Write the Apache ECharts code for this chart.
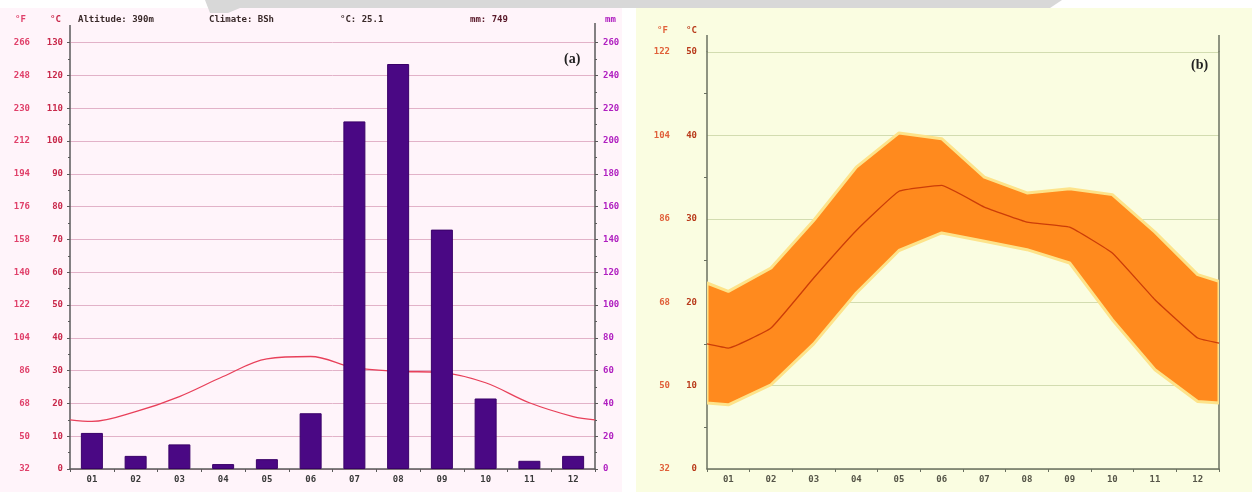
<!DOCTYPE html>
<html><head><meta charset="utf-8">
<script src="https://cdn.jsdelivr.net/npm/echarts@6/dist/echarts.min.js"></script>
<style>html,body{margin:0;padding:0;background:#fff}#c{width:1252px;height:492px}</style>
</head><body><div id="c"></div>
<script>
// ---- data ----
const months = ['01','02','03','04','05','06','07','08','09','10','11','12'];
// panel (a)
const precipMm = [22, 8, 15, 3, 6, 34, 212, 247, 146, 43, 5, 8];
const meanTempA = [14.5, 17.5, 22.1, 28.2, 33.6, 34.3, 30.9, 29.8, 29.4, 26.3, 20.2, 16.0];
const meanTempAEdges = [15.0, 15.0];          // values at left / right plot edge
const fahrenheitLabelsA = ['32','50','68','86','104','122','140','158','176','194','212','230','248','266'];
const headerTexts = ['Altitude: 390m', 'Climate: BSh', '°C: 25.1', 'mm: 749'];
// panel (b)
const maxTempB  = [21.3, 24.1, 29.8, 36.2, 40.3, 39.6, 35.0, 33.1, 33.6, 32.9, 28.4, 23.3];
const maxTempBEdges = [22.3, 22.5];
const meanTempB = [14.5, 16.9, 22.9, 28.6, 33.3, 34.0, 31.4, 29.6, 29.0, 25.9, 20.3, 15.7];
const meanTempBEdges = [15.0, 15.1];
const minTempB  = [7.7, 10.1, 15.0, 21.1, 26.2, 28.3, 27.3, 26.3, 24.7, 17.9, 11.9, 8.1];
const minTempBEdges = [7.9, 7.9];
const fahrenheitLabelsB = ['32','50','68','86','104','122'];

// build edge-to-edge series on a 0..12 value axis (month centres at i+0.5)
function withEdges(vals, edges) {
  const out = [[0, edges[0]]];
  vals.forEach((v, i) => out.push([i + 0.5, v]));
  out.push([months.length, edges[1]]);
  return out;
}
const lineA = withEdges(meanTempA, meanTempAEdges);
const lowB = withEdges(minTempB, minTempBEdges);
const highB = withEdges(maxTempB, maxTempBEdges);
const bandRows = highB.map((p, i) => [p[0], lowB[i][1], p[1]]);
const meanB = withEdges(meanTempB, meanTempBEdges);

const mono = 'DejaVu Sans Mono';
const axisGray = '#5a5a5a';

const chart = echarts.init(document.getElementById('c'), null, {renderer: 'canvas'});

function renderBand(params, api) {
  if (params.dataIndex !== 0) return null;
  const upper = bandRows.map(r => api.coord([r[0], r[2]]));
  const lower = bandRows.map(r => api.coord([r[0], r[1]])).reverse();
  return {
    type: 'polygon',
    shape: {points: upper.concat(lower)},
    style: {fill: '#ff8a1e', stroke: '#fde38a', lineWidth: 3, lineJoin: 'round'}
  };
}

const option = {
  animation: false,
  backgroundColor: '#ffffff',
  graphic: [
    {type: 'rect', z: -10, shape: {x: 0, y: 8, width: 622, height: 484}, style: {fill: '#fff4fa'}},
    {type: 'rect', z: -10, shape: {x: 636, y: 8, width: 616, height: 484}, style: {fill: '#fafde1'}},
    {type: 'polygon', z: -9, shape: {points: [[205,0],[1062,0],[1050,8],[240,8],[228,13],[210,13]]}, style: {fill: '#d8d8d8'}},
    // axis line extensions above the plot
    {type: 'line', shape: {x1: 70, y1: 25, x2: 70, y2: 43}, style: {stroke: axisGray, lineWidth: 1.5}},
    {type: 'line', shape: {x1: 595, y1: 23, x2: 595, y2: 43}, style: {stroke: axisGray, lineWidth: 1.5}},
    {type: 'line', shape: {x1: 707, y1: 35, x2: 707, y2: 52}, style: {stroke: '#6a7060', lineWidth: 1.5}},
    {type: 'line', shape: {x1: 1219, y1: 35, x2: 1219, y2: 52}, style: {stroke: '#6a7060', lineWidth: 1.5}},
    // unit headers
    {type: 'text', left: 15, top: 15, style: {text: '°F', fill: '#e0406a', font: 'bold 9px ' + mono}},
    {type: 'text', left: 50, top: 15, style: {text: '°C', fill: '#c8284a', font: 'bold 9px ' + mono}},
    {type: 'text', left: 605, top: 15, style: {text: 'mm', fill: '#b020c0', font: 'bold 9px ' + mono}},
    {type: 'text', left: 657, top: 26, style: {text: '°F', fill: '#e0603a', font: 'bold 9px ' + mono}},
    {type: 'text', left: 686, top: 26, style: {text: '°C', fill: '#b83a1a', font: 'bold 9px ' + mono}},
    // header info
    {type: 'text', left: 78, top: 15, style: {text: headerTexts[0], fill: '#3a2a2a', font: 'bold 9px ' + mono}},
    {type: 'text', left: 209, top: 15, style: {text: headerTexts[1], fill: '#3a2a2a', font: 'bold 9px ' + mono}},
    {type: 'text', left: 340, top: 15, style: {text: headerTexts[2], fill: '#3a2a2a', font: 'bold 9px ' + mono}},
    {type: 'text', left: 470, top: 15, style: {text: headerTexts[3], fill: '#5a1a2a', font: 'bold 9px ' + mono}},
    // panel labels
    {type: 'text', left: 564, top: 52, style: {text: '(a)', fill: '#222', font: 'bold 14px "Liberation Serif"'}},
    {type: 'text', left: 1191, top: 58, style: {text: '(b)', fill: '#222', font: 'bold 14px "Liberation Serif"'}}
  ],
  grid: [
    {left: 70, right: 657, top: 42.7, bottom: 23, containLabel: false},
    {left: 707, right: 33, top: 52, bottom: 23, containLabel: false}
  ],
  xAxis: [
    { // 0: panel a months
      type: 'category', gridIndex: 0, data: months, boundaryGap: true,
      axisLine: {lineStyle: {color: axisGray, width: 1.5}},
      axisTick: {show: true, length: 3, inside: false, lineStyle: {color: axisGray}},
      axisLabel: {color: '#3a3a3a', fontFamily: mono, fontSize: 9, fontWeight: 'bold', margin: 6},
      splitLine: {show: false}
    },
    { // 1: panel a hidden value x for the line
      type: 'value', gridIndex: 0, min: 0, max: 12, show: false
    },
    { // 2: panel b months
      type: 'category', gridIndex: 1, data: months, boundaryGap: true,
      axisLine: {lineStyle: {color: '#6a7060', width: 1.5}},
      axisTick: {show: true, length: 3, lineStyle: {color: '#6a7060'}},
      axisLabel: {color: '#555548', fontFamily: mono, fontSize: 9, fontWeight: 'bold', margin: 6},
      splitLine: {show: false}
    },
    { // 3: panel b hidden value x
      type: 'value', gridIndex: 1, min: 0, max: 12, show: false
    }
  ],
  yAxis: [
    { // 0: °C panel a
      type: 'value', gridIndex: 0, min: 0, max: 130, interval: 10, position: 'left',
      axisLine: {show: true, lineStyle: {color: axisGray, width: 1.5}},
      axisTick: {show: true, length: 3, lineStyle: {color: axisGray}},
      minorTick: {show: true, splitNumber: 2, length: 2, lineStyle: {color: axisGray}},
      axisLabel: {color: '#c8284a', fontFamily: mono, fontSize: 9, fontWeight: 'bold', margin: 7},
      splitLine: {show: true, lineStyle: {color: '#e2b2c8', width: 1}}
    },
    { // 1: °F panel a
      type: 'value', gridIndex: 0, min: 0, max: 130, interval: 10, position: 'left', offset: 32,
      axisLine: {show: false}, axisTick: {show: false}, splitLine: {show: false},
      axisLabel: {color: '#e0406a', fontFamily: mono, fontSize: 9, fontWeight: 'bold', margin: 8,
        formatter: v => fahrenheitLabelsA[Math.round(v / 10)] || ''}
    },
    { // 2: mm panel a
      type: 'value', gridIndex: 0, min: 0, max: 260, interval: 20, position: 'right',
      axisLine: {show: true, lineStyle: {color: axisGray, width: 1.5}},
      axisTick: {show: true, length: 3, lineStyle: {color: axisGray}},
      minorTick: {show: true, splitNumber: 2, length: 2, lineStyle: {color: axisGray}},
      axisLabel: {color: '#b020c0', fontFamily: mono, fontSize: 9, fontWeight: 'bold', margin: 8},
      splitLine: {show: false}
    },
    { // 3: °C panel b
      type: 'value', gridIndex: 1, min: 0, max: 50, interval: 10, position: 'left',
      axisLine: {show: true, lineStyle: {color: '#6a7060', width: 1.5}},
      axisTick: {show: false},
      minorTick: {show: true, splitNumber: 2, length: 3, lineStyle: {color: '#6a7060'}},
      axisLabel: {color: '#b83a1a', fontFamily: mono, fontSize: 9, fontWeight: 'bold', margin: 10},
      splitLine: {show: true, lineStyle: {color: '#d2dcb0', width: 1}}
    },
    { // 4: °F panel b
      type: 'value', gridIndex: 1, min: 0, max: 50, interval: 10, position: 'left', offset: 30,
      axisLine: {show: false}, axisTick: {show: false}, splitLine: {show: false},
      axisLabel: {color: '#e0603a', fontFamily: mono, fontSize: 9, fontWeight: 'bold', margin: 7,
        formatter: v => fahrenheitLabelsB[Math.round(v / 10)] || ''}
    },
    { // 5: right frame panel b
      type: 'value', gridIndex: 1, min: 0, max: 50, interval: 10, position: 'right',
      axisLine: {show: true, lineStyle: {color: '#6a7060', width: 1.5}},
      axisTick: {show: false}, axisLabel: {show: false}, splitLine: {show: false}
    }
  ],
  series: [
    {
      name: 'Temperature', type: 'line', xAxisIndex: 1, yAxisIndex: 0, data: lineA,
      smooth: 0.35, symbol: 'none', z: 1,
      lineStyle: {color: '#e8405a', width: 1.3}
    },
    {
      name: 'Precipitation', type: 'bar', xAxisIndex: 0, yAxisIndex: 2, data: precipMm,
      barWidth: 22, z: 3,
      itemStyle: {color: '#4a0884', borderColor: '#3a0068', borderWidth: 1}
    },
    {
      name: 'Range', type: 'custom', xAxisIndex: 3, yAxisIndex: 3, data: bandRows,
      encode: {x: 0, y: [1, 2]}, renderItem: renderBand, z: 2, clip: true
    },
    {
      name: 'Mean', type: 'line', xAxisIndex: 3, yAxisIndex: 3, data: meanB,
      symbol: 'none', smooth: 0.1, z: 4,
      lineStyle: {color: '#cc3d08', width: 1.3}
    }
  ]
};
chart.setOption(option);
</script>
</body></html>
